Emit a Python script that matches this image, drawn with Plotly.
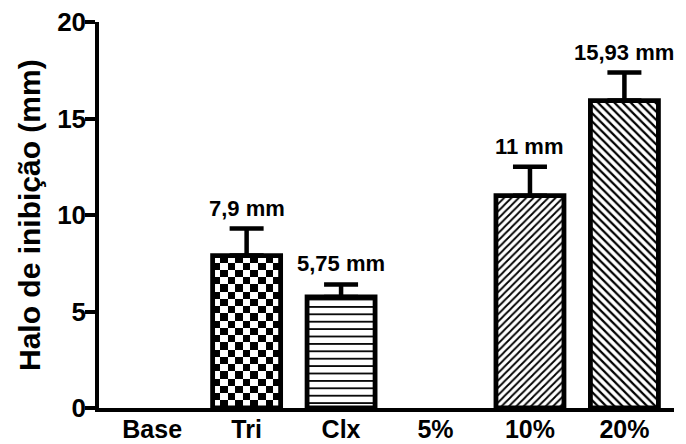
import plotly.graph_objects as go

# Inhibition halo (mm) per treatment
categories = ["Base", "Tri", "Clx", "5%", "10%", "20%"]
values = [0, 7.9, 5.75, 0, 11, 15.93]
errors = [0, 1.4, 0.65, 0, 1.5, 1.45]
y_ticks = [0, 5, 10, 15, 20]

FONT = "Liberation Sans, Arial, sans-serif"
BAR_W = 0.72
x_idx = list(range(len(categories)))


def label(v):
    return f"{v:g}".replace(".", ",") + " mm"


fig = go.Figure()

# checkerboard fill for the "Tri" bar (heatmap tiles under the outlined bar)
tri = categories.index("Tri")
nx, ny = 9, 21
dx = BAR_W / nx
dy = values[tri] / ny
checker = [[(i + j) % 2 for j in range(nx)] for i in range(ny)]
fig.add_trace(go.Heatmap(
    z=checker,
    x0=tri - BAR_W / 2 + dx / 2, dx=dx,
    y0=dy / 2, dy=dy,
    colorscale=[[0, "white"], [1, "black"]],
    showscale=False, hoverinfo="skip",
))

# fill style per category: (pattern shape, pattern size, solidity)
styles = {
    "Tri": ("", 8, 0.2),
    "Clx": ("-", 7.4, 0.24),
    "10%": ("/", 5.2, 0.35),
    "20%": ("\\", 5.8, 0.38),
}

for i, (cat, v, e) in enumerate(zip(categories, values, errors)):
    if v <= 0:
        continue
    shape, size, solidity = styles.get(cat, ("", 8, 0.2))
    marker = dict(
        color="rgba(0,0,0,0)" if cat == "Tri" else "white",
        line=dict(color="black", width=4.8),
    )
    if shape:
        marker["pattern"] = dict(shape=shape, size=size, solidity=solidity,
                                 fgcolor="black", bgcolor="white",
                                 fgopacity=1, fillmode="replace")
    fig.add_trace(go.Bar(
        x=[i], y=[v], width=BAR_W, marker=marker,
        error_y=dict(type="data", symmetric=False, array=[e], arrayminus=[0],
                     thickness=4.5, width=17, color="black"),
        showlegend=False,
    ))
    fig.add_annotation(
        x=i, y=v + e, text=label(v), showarrow=False,
        yanchor="bottom", yshift=6,
        font=dict(family=FONT, size=22, color="black", weight="bold"),
    )

fig.add_annotation(
    xref="paper", yref="paper", x=0, y=0.5, xshift=-70,
    text="Halo de inibição (mm)", textangle=-90, showarrow=False,
    xanchor="center", yanchor="middle",
    font=dict(family=FONT, size=30, color="black", weight="bold"),
)

fig.update_layout(
    width=686, height=444,
    margin=dict(l=99, r=12, t=22, b=36),
    paper_bgcolor="white", plot_bgcolor="white",
    font=dict(family=FONT, color="black"),
    barmode="overlay",
)
fig.update_xaxes(
    range=[-0.563, 5.525], tickvals=x_idx, ticktext=categories,
    showline=True, linecolor="black", linewidth=3.5,
    ticks="", showgrid=False, zeroline=False, ticklabelstandoff=-4,
    automargin=False,
    tickfont=dict(family=FONT, size=25, color="black", weight="bold"),
)
fig.update_yaxes(
    range=[0, 20], tickvals=y_ticks,
    showline=True, linecolor="black", linewidth=3.5,
    ticks="outside", ticklen=10, tickwidth=3.5, tickcolor="black",
    showgrid=False, zeroline=False, ticklabelstandoff=-6,
    automargin=False,
    tickfont=dict(family=FONT, size=26, color="black", weight="bold"),
)

fig.write_html("out.html")
